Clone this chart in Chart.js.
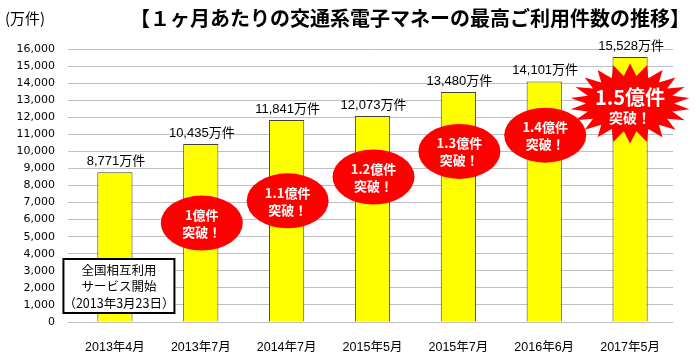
<!DOCTYPE html>
<html><head><meta charset="utf-8">
<script src="https://cdn.jsdelivr.net/npm/chart.js@4/dist/chart.umd.min.js"></script>
<style>html,body{margin:0;padding:0;background:#fff;}canvas{display:block;}</style>
</head><body>
<canvas id="c" width="700" height="357"></canvas>
<script>
// ---- data ----
const categories = ['2013年4月', '2013年7月', '2014年7月', '2015年5月', '2015年7月', '2016年6月', '2017年5月'];
const values = [8771, 10435, 11841, 12073, 13480, 14101, 15528];
const valueUnit = '万件';
const yMin = 0;
const yMax = 16000;
const yStep = 1000;
const titleText = '【１ヶ月あたりの交通系電子マネーの最高ご利用件数の推移】';
const unitText = '(万件)';
const bubbleIndex = [1, 2, 3, 4, 5];
const bubbleValues = [5800, 7100, 8500, 10000, 10950];
const bubbleLabels = ['1億件', '1.1億件', '1.2億件', '1.3億件', '1.4億件'];
const bubbleSub = '突破！';
const starIndex = 6;
const starValue = 12800;
const starLabels = ['1.5億件', '突破！'];
const noteLines = ['全国相互利用', 'サービス開始', '（2013年3月23日）'];
const noteIndex = 0;
const noteValue = 2110;

const JP = '"Noto Sans CJK JP", sans-serif';
const NUMJP = '"Liberation Sans", "Noto Sans CJK JP", sans-serif';

const fmt = v => v.toLocaleString('en-US');

const decorPlugin = {
  id: 'decor',
  afterDraw(chart) {
    const ctx = chart.ctx;
    const xs = chart.scales.x, ys = chart.scales.y;
    ctx.save();
    // title and unit
    ctx.fillStyle = '#000';
    ctx.textBaseline = 'middle';
    ctx.textAlign = 'center';
    ctx.font = 'bold 20px ' + JP;
    ctx.fillText(titleText, 410, 18);
    ctx.textAlign = 'left';
    ctx.font = '15px ' + JP;
    ctx.fillText(unitText, 5, 18);

    // value labels
    const meta = chart.getDatasetMeta(0);
    ctx.font = '13px ' + NUMJP;
    ctx.textAlign = 'center';
    ctx.textBaseline = 'alphabetic';
    meta.data.forEach((bar, i) => {
      ctx.fillText(fmt(values[i]) + valueUnit, bar.x + 1, bar.y - 7);
    });

    // red ellipses
    bubbleIndex.forEach((ci, k) => {
      const cx = xs.getPixelForValue(ci) + 1;
      const cy = ys.getPixelForValue(bubbleValues[k]);
      ctx.beginPath();
      ctx.ellipse(cx, cy, 41, 27.5, 0, 0, Math.PI * 2);
      ctx.fillStyle = '#ff0000';
      ctx.fill();
      ctx.fillStyle = '#ffffff';
      ctx.font = 'bold 13px ' + JP;
      ctx.textAlign = 'center';
      ctx.textBaseline = 'middle';
      ctx.fillText(bubbleLabels[k], cx, cy - 8);
      ctx.fillText(bubbleSub, cx, cy + 9);
    });

    // star burst
    {
      const cx = xs.getPixelForValue(starIndex);
      const cy = ys.getPixelForValue(starValue);
      const n = 22;
      ctx.beginPath();
      for (let i = 0; i < n * 2; i++) {
        const a = -Math.PI / 2 + i * Math.PI / n;
        const rx = i % 2 === 0 ? 60 : 44;
        const ry = i % 2 === 0 ? 40 : 28;
        const px = cx + Math.cos(a) * rx;
        const py = cy + Math.sin(a) * ry;
        if (i === 0) ctx.moveTo(px, py); else ctx.lineTo(px, py);
      }
      ctx.closePath();
      ctx.fillStyle = '#ff0000';
      ctx.fill();
      ctx.fillStyle = '#ffffff';
      ctx.textAlign = 'center';
      ctx.textBaseline = 'middle';
      ctx.font = 'bold 20px ' + JP;
      ctx.fillText(starLabels[0], cx, cy - 6);
      ctx.font = 'bold 14px ' + JP;
      ctx.fillText(starLabels[1], cx, cy + 14);
    }

    // note box
    {
      const cx = xs.getPixelForValue(noteIndex) + 4;
      const cy = ys.getPixelForValue(noteValue);
      const w = 111, h = 54;
      ctx.fillStyle = '#ffffff';
      ctx.fillRect(cx - w / 2, cy - h / 2, w, h);
      ctx.lineWidth = 2;
      ctx.strokeStyle = '#000000';
      ctx.strokeRect(cx - w / 2, cy - h / 2, w, h);
      ctx.fillStyle = '#000';
      ctx.font = '12.5px ' + JP;
      ctx.textAlign = 'center';
      ctx.textBaseline = 'middle';
      noteLines.forEach((t, i) => ctx.fillText(t, cx, cy - 16 + i * 16.5));
    }
    ctx.restore();
  }
};

new Chart(document.getElementById('c'), {
  type: 'bar',
  data: {
    labels: categories,
    datasets: [{
      data: values,
      backgroundColor: '#ffff00',
      borderColor: '#404040',
      borderWidth: 1,
      borderSkipped: 'bottom',
      categoryPercentage: 1,
      barPercentage: 0.41
    }]
  },
  options: {
    responsive: false,
    devicePixelRatio: 1,
    animation: false,
    layout: { padding: { top: 49, right: 27, left: 0, bottom: 0 } },
    plugins: { legend: { display: false }, title: { display: false }, tooltip: { enabled: false } },
    scales: {
      x: {
        grid: { display: false, drawTicks: false },
        border: { display: false },
        ticks: { color: '#000', font: { family: NUMJP, size: 12.5 }, padding: 18, maxRotation: 0 },
        afterFit(s) { s.height = 35; }
      },
      y: {
        min: yMin, max: yMax,
        grid: { color: '#bfbfbf', lineWidth: 1, tickLength: 4 },
        border: { display: false },
        ticks: { stepSize: yStep, color: '#000', font: { family: '"DejaVu Sans", sans-serif', size: 11 }, padding: 13, callback: v => fmt(v) },
        afterFit(s) { s.width = 72; }
      }
    }
  },
  plugins: [decorPlugin]
});
</script>
</body></html>
